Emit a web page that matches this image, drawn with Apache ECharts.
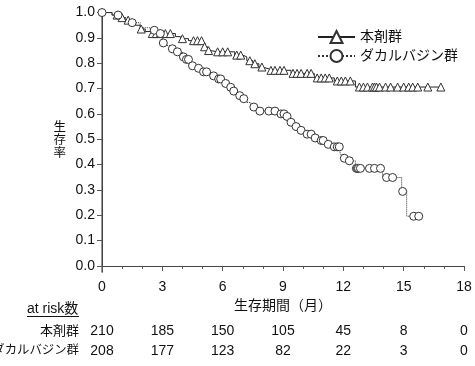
<!DOCTYPE html>
<html><head><meta charset="utf-8">
<script src="https://cdn.jsdelivr.net/npm/echarts@6/dist/echarts.min.js"></script>
<style>html,body{margin:0;padding:0;background:#fff}#c{width:475px;height:366px}</style>
</head><body><div id="c"></div>
<script>
const groupNames = ['本剤群', 'ダカルバジン群'];

// 本剤群: event times / survival after event, censor times
const drugEventT = [0, 0.5, 0.85, 1.15, 1.35, 1.65, 1.9, 2.15, 2.45, 3.65, 3.9, 4.3, 5.05, 5.25, 5.4, 6.6, 7.0, 7.2, 7.5, 7.8, 8.0, 8.3, 9.4, 10.55, 11.55, 12.6];
const drugEventS = [1.0, 0.99, 0.98, 0.97, 0.96, 0.95, 0.935, 0.925, 0.917, 0.905, 0.897, 0.889, 0.865, 0.85, 0.845, 0.832, 0.825, 0.81, 0.798, 0.785, 0.778, 0.772, 0.76, 0.742, 0.73, 0.706];
const drugCensorT = [0.75, 1.0, 1.3, 1.95, 2.5, 2.7, 2.9, 3.15, 3.4, 4.0, 4.55, 4.75, 4.95, 5.1, 5.3, 5.75, 6.0, 6.25, 6.7, 6.9, 7.35, 7.6, 7.95, 8.4, 8.6, 8.85, 9.05, 9.5, 9.7, 9.9, 10.2, 10.4, 10.7, 10.9, 11.1, 11.3, 11.7, 11.9, 12.1, 12.35, 12.8, 13.0, 13.2, 13.45, 13.55, 13.65, 13.8, 14.1, 14.35, 14.7, 15.0, 15.25, 15.45, 15.7, 16.2, 16.85];

// ダカルバジン群
const dacEventT = [0, 0.5, 0.9, 1.3, 1.9, 2.4, 2.75, 3.0, 3.2, 3.4, 3.65, 4.0, 4.15, 4.4, 4.65, 5.0, 5.4, 5.75, 6.05, 6.3, 6.45, 6.75, 7.0, 7.2, 7.4, 7.7, 8.75, 9.1, 9.3, 9.5, 9.75, 10.1, 10.5, 10.75, 11.05, 11.4, 11.85, 11.95, 12.15, 12.6, 13.95, 14.9, 15.15];
const dacEventS = [1.0, 0.99, 0.98, 0.96, 0.94, 0.93, 0.917, 0.88, 0.87, 0.857, 0.845, 0.825, 0.815, 0.79, 0.78, 0.766, 0.75, 0.738, 0.72, 0.705, 0.69, 0.672, 0.66, 0.645, 0.627, 0.611, 0.6, 0.59, 0.567, 0.55, 0.535, 0.52, 0.505, 0.495, 0.48, 0.47, 0.44, 0.425, 0.415, 0.385, 0.349, 0.294, 0.196];
const dacCensorT = [0, 0.8, 1.5, 2.6, 2.9, 3.05, 3.5, 3.75, 4.05, 4.2, 4.3, 4.5, 4.8, 5.05, 5.2, 5.55, 5.8, 5.9, 6.15, 6.4, 6.55, 6.85, 7.05, 7.55, 7.85, 8.3, 8.6, 8.9, 9.05, 9.2, 9.4, 9.65, 9.9, 10.2, 10.4, 10.6, 10.9, 11.0, 11.25, 11.55, 11.7, 11.8, 12.05, 12.3, 12.65, 12.7, 12.75, 12.85, 13.3, 13.55, 13.85, 14.15, 14.45, 14.95, 15.5, 15.75];

const xTicks = [0, 3, 6, 9, 12, 15, 18];
const yTicks = [0, 0.1, 0.2, 0.3, 0.4, 0.5, 0.6, 0.7, 0.8, 0.9, 1.0];
const riskTitle = 'at risk数';
const riskDrug = [210, 185, 150, 105, 45, 8, 0];
const riskDac = [208, 177, 123, 82, 22, 3, 0];
const xName = '生存期間（月）';
const yName = '生存率';

function survAt(ts, ss, t) { let s = ss[0]; for (let i = 0; i < ts.length; i++) { if (ts[i] <= t) s = ss[i]; } return s; }
function buildKM(ts, ss, cs) {
  const pts = [];
  ts.forEach((t, i) => pts.push({ t: t, s: ss[i], c: 0 }));
  cs.forEach(t => pts.push({ t: t, s: survAt(ts, ss, t), c: 1 }));
  pts.sort((a, b) => (a.t - b.t) || (a.c - b.c));
  return pts.map(p => p.c ? { value: [p.t, p.s] } : { value: [p.t, p.s], symbol: 'none' });
}

const FONT = '"Liberation Sans", "Noto Sans CJK JP", sans-serif';
const chart = echarts.init(document.getElementById('c'), null, { renderer: 'canvas' });

function riskAxis(name, arr, offset, nameSize) {
  return {
    type: 'value', gridIndex: 0, min: 0, max: 18, interval: 3, position: 'bottom', offset: offset,
    axisLine: { show: false }, axisTick: { show: false }, splitLine: { show: false },
    axisLabel: { margin: 0, verticalAlign: 'middle', fontSize: 14, fontFamily: FONT, color: '#111',
      formatter: v => { const i = xTicks.indexOf(v); return i >= 0 ? String(arr[i]) : ''; } },
    name: name, nameLocation: 'start', nameGap: 23,
    nameTextStyle: { fontSize: nameSize, fontFamily: FONT, color: '#111', align: 'right', verticalAlign: 'middle' }
  };
}

chart.setOption({
  animation: false,
  backgroundColor: '#fff',
  grid: { left: 102, right: 11, top: 9, bottom: 94, outerBoundsMode: 'none', containLabel: false },
  legend: {
    orient: 'vertical', left: 312, top: 25, itemWidth: 37, itemHeight: 15, itemGap: 5,
    textStyle: { fontSize: 14, fontFamily: FONT, color: '#111' },
    data: groupNames
  },
  xAxis: [
    {
      type: 'value', min: 0, max: 18, interval: 3, position: 'bottom',
      axisLine: { show: true, lineStyle: { color: '#555', width: 1 } },
      axisTick: { show: true, length: 5, lineStyle: { color: '#555' } },
      minorTick: { show: true, splitNumber: 3, length: 3, lineStyle: { color: '#555' } },
      splitLine: { show: false },
      axisLabel: { fontSize: 14, fontFamily: FONT, color: '#111', margin: 8, formatter: v => String(v) },
      name: xName, nameLocation: 'middle', nameGap: 27,
      nameTextStyle: { fontSize: 14, fontFamily: FONT, color: '#111' }
    },
    { type: 'value', min: 0, max: 18, position: 'top', axisLine: { show: true, lineStyle: { color: '#444' } },
      axisTick: { show: false }, axisLabel: { show: false }, splitLine: { show: false } },
    riskAxis(groupNames[0], riskDrug, 59, 13),
    riskAxis(groupNames[1], riskDac, 79, 12.4)
  ],
  yAxis: [
    {
      type: 'value', min: -0.024, max: 1.014,
      axisLine: { show: true, lineStyle: { color: '#777', width: 1.5 } },
      axisTick: { show: true, length: 5, customValues: yTicks, lineStyle: { color: '#555' } },
      splitLine: { show: false },
      axisLabel: { customValues: yTicks, fontSize: 14, fontFamily: FONT, color: '#111', margin: 7, formatter: v => v.toFixed(1) },
      name: yName.split('').join('\n'), nameLocation: 'middle', nameRotate: 0, nameGap: 36,
      nameTextStyle: { fontSize: 12.5, lineHeight: 13, fontFamily: FONT, color: '#111', align: 'right', padding: [0, 0, 10, 0] }
    },
    { type: 'value', min: -0.024, max: 1.014, position: 'right', axisLine: { show: true, lineStyle: { color: '#444' } },
      axisTick: { show: false }, axisLabel: { show: false }, splitLine: { show: false } }
  ],
  graphic: [
    { type: 'text', left: 27, top: 302, style: { text: riskTitle, font: '14px ' + FONT, fill: '#111' } },
    { type: 'line', shape: { x1: 27, y1: 316.5, x2: 79, y2: 316.5 }, style: { stroke: '#111', lineWidth: 1 } }
  ],
  series: [
    {
      name: groupNames[0], type: 'line', step: 'end', xAxisIndex: 0, yAxisIndex: 0,
      data: buildKM(drugEventT, drugEventS, drugCensorT),
      symbol: 'triangle', symbolSize: 8, showSymbol: true, showAllSymbol: true,
      lineStyle: { color: '#222', width: 1, type: 'solid' },
      itemStyle: { color: '#fff', borderColor: '#333', borderWidth: 1 }
    },
    {
      name: groupNames[1], type: 'line', step: 'end', xAxisIndex: 0, yAxisIndex: 0,
      data: buildKM(dacEventT, dacEventS, dacCensorT),
      symbol: 'circle', symbolSize: 8, showSymbol: true, showAllSymbol: true,
      lineStyle: { color: '#333', width: 1, type: 'dotted' },
      itemStyle: { color: '#fff', borderColor: '#333', borderWidth: 1 }
    }
  ]
});
</script></body></html>
